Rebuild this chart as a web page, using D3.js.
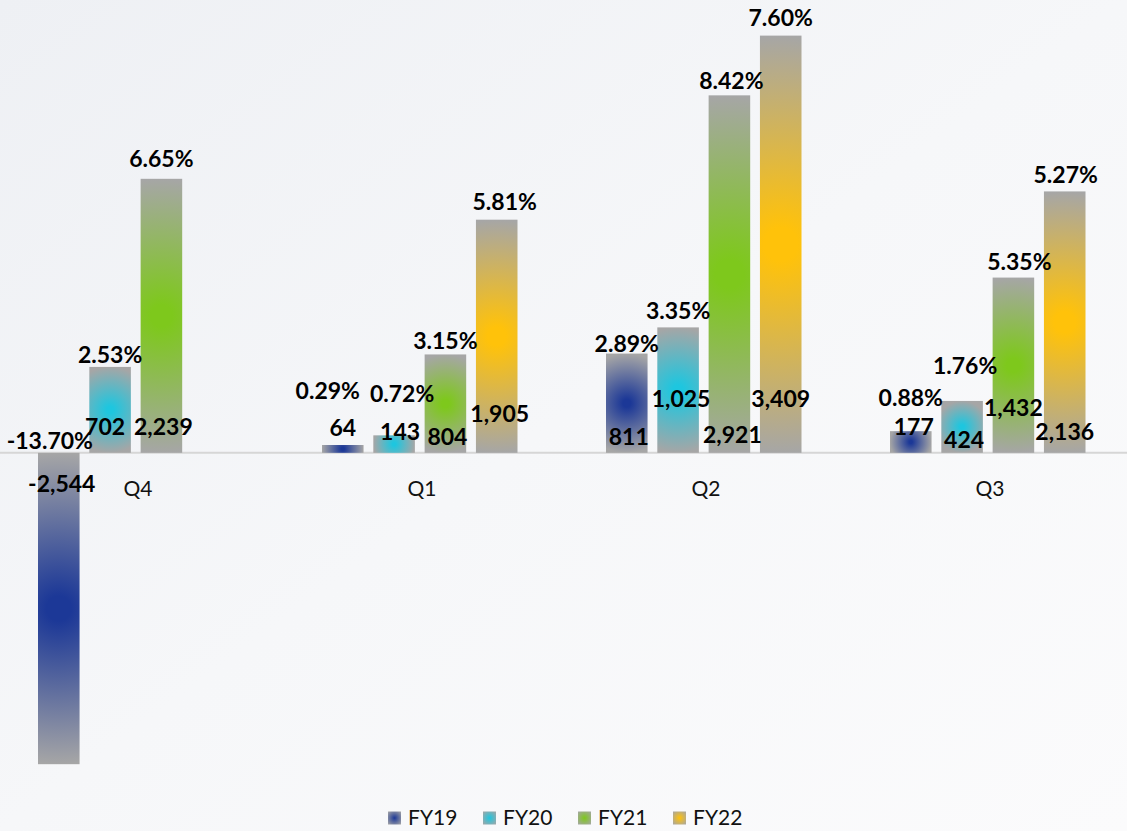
<!DOCTYPE html>
<meta charset="utf-8">
<div id="area"></div>
<script src="https://d3js.org/d3.v7.min.js"></script>
<style>
  body { margin: 0; background: #f7f8fa; font-family: Lato, "Open Sans", sans-serif; }
  .pct, .val { font-weight: 700; font-size: 23px; fill: #000; }
  .cat, .leg { font-size: 21px; fill: #111; }
</style>
<script>
// data
var categories = ["Q4", "Q1", "Q2", "Q3"];
var seriesNames = ["FY19", "FY20", "FY21", "FY22"];
var fy19 = [-2544, 64, 811, 177];
var fy20 = [702, 143, 1025, 424];
var fy21 = [2239, 804, 2921, 1432];
var fy22 = [null, 1905, 3409, 2136];
var fy19Pct = [-13.70, 0.29, 2.89, 0.88];
var fy20Pct = [2.53, 0.72, 3.35, 1.76];
var fy21Pct = [6.65, 3.15, 8.42, 5.35];
var fy22Pct = [null, 5.81, 7.60, 5.27];
var centerColors = ["#1c3897", "#1ec6df", "#7ec81c", "#ffc20a"];

// hand-placed label nudges [dx, dy], per category then series
var pctNudge = [
  [[-9, 4], [0, 4], [0, -4], null],
  [[-15, -38], [8, -25], [0, 3], [8, -2]],
  [[0, 6], [0, 0], [2, 2], [0, -2]],
  [[0, -17], [3, -19], [6, 0], [1, 0]]
];
var valNudge = [
  [[3, 9], [-5, -4], [2, -4], null],
  [[0, -3], [6, 1], [2, 6], [3, -17]],
  [[2, 6], [3, -32], [3, 4], [0, -32]],
  [[3, -4], [2, 9], [0, -23], [0, 1]]
];

var W = 1127, H = 831;
var values = [fy19, fy20, fy21, fy22];
var pcts = [fy19Pct, fy20Pct, fy21Pct, fy22Pct];

var svg = d3.select("#area").append("svg")
  .attr("width", W).attr("height", H);

var defs = svg.append("defs");
var bg = defs.append("linearGradient").attr("id", "bg")
  .attr("x1", 0).attr("y1", 0).attr("x2", 1).attr("y2", 1);
bg.append("stop").attr("offset", 0).attr("stop-color", "#eef0f4");
bg.append("stop").attr("offset", 0.5).attr("stop-color", "#f6f7f9");
bg.append("stop").attr("offset", 1).attr("stop-color", "#fbfbfc");
svg.append("rect").attr("width", W).attr("height", H).attr("fill", "url(#bg)");

var x0 = d3.scaleBand().domain(categories).range([-6, 1130]);
var x1 = d3.scaleBand().domain(seriesNames).range([44, 239.5]).paddingInner(0.19);
var y = d3.scaleLinear().domain([-3000, 3700]).range([820, 0]);

// zero line
svg.append("line")
  .attr("x1", 0).attr("x2", W)
  .attr("y1", y(0)).attr("y2", y(0))
  .attr("stroke", "#d6d6d6").attr("stroke-width", 2);

var bars = [];
categories.forEach(function(c, ci) {
  seriesNames.forEach(function(s, si) {
    var v = values[si][ci];
    if (v == null) return;
    bars.push({cat: c, ci: ci, series: s, si: si, value: v, pct: pcts[si][ci]});
  });
});

bars.forEach(function(d, i) {
  var bx = x0(d.cat) + x1(d.series), bw = x1.bandwidth();
  var top = Math.min(y(d.value), y(0)), bh = Math.abs(y(d.value) - y(0));
  d.x = bx; d.w = bw; d.top = top; d.h = bh;
  var g = defs.append("radialGradient").attr("id", "g" + i)
    .attr("gradientUnits", "userSpaceOnUse")
    .attr("cx", bx + bw / 2).attr("cy", top + bh / 2)
    .attr("r", Math.max(bw, bh) / 2);
  g.append("stop").attr("offset", 0).attr("stop-color", centerColors[d.si]);
  g.append("stop").attr("offset", 0.08).attr("stop-color", centerColors[d.si]);
  g.append("stop").attr("offset", 1).attr("stop-color", "#a6a6a6");
});

svg.append("g").selectAll("rect")
  .data(bars)
  .enter().append("rect")
    .attr("x", function(d) { return d.x; })
    .attr("y", function(d) { return d.top; })
    .attr("width", function(d) { return d.w; })
    .attr("height", function(d) { return d.h; })
    .attr("fill", function(d, i) { return "url(#g" + i + ")"; });

// category labels
svg.append("g").selectAll("text")
  .data(categories)
  .enter().append("text")
    .attr("class", "cat")
    .attr("x", function(d) { return x0(d) + x0.bandwidth() / 2 + 2; })
    .attr("y", y(0) + 36)
    .attr("dy", "0.35em")
    .attr("text-anchor", "middle")
    .text(function(d) { return d; });

// percent labels
svg.append("g").selectAll("text")
  .data(bars)
  .enter().append("text")
    .attr("class", "pct")
    .attr("text-anchor", "middle")
    .attr("dy", "0.35em")
    .attr("x", function(d) { return d.x + d.w / 2 + pctNudge[d.ci][d.si][0]; })
    .attr("y", function(d) {
      var base = d.value < 0 ? y(0) : y(d.value);
      return base - 16 + pctNudge[d.ci][d.si][1];
    })
    .text(function(d) { return d.pct.toFixed(2) + "%"; });

// value labels
var fmt = d3.format(",");
svg.append("g").selectAll("text")
  .data(bars)
  .enter().append("text")
    .attr("class", "val")
    .attr("text-anchor", "middle")
    .attr("dy", "0.35em")
    .attr("x", function(d) { return d.x + d.w / 2 + valNudge[d.ci][d.si][0]; })
    .attr("y", function(d) {
      var base = d.value < 0 ? y(0) + 22 : y(0) - 22;
      return base + valNudge[d.ci][d.si][1];
    })
    .text(function(d) { return fmt(d.value).replace("−", "-"); });

// legend
var leg = svg.append("g").attr("transform", "translate(388,818)");
seriesNames.forEach(function(s, i) {
  var lg = defs.append("radialGradient").attr("id", "lg" + i)
    .attr("cx", 0.5).attr("cy", 0.5).attr("r", 0.7);
  lg.append("stop").attr("offset", 0).attr("stop-color", centerColors[i]);
  lg.append("stop").attr("offset", 1).attr("stop-color", "#a6a6a6");
  var item = leg.append("g").attr("transform", "translate(" + (i * 95) + ",0)");
  item.append("rect").attr("x", 0).attr("y", -6.5).attr("width", 13).attr("height", 13)
    .attr("fill", "url(#lg" + i + ")");
  item.append("text").attr("class", "leg")
    .attr("x", 20).attr("y", 0).attr("dy", "0.35em")
    .text(s);
});
</script>
